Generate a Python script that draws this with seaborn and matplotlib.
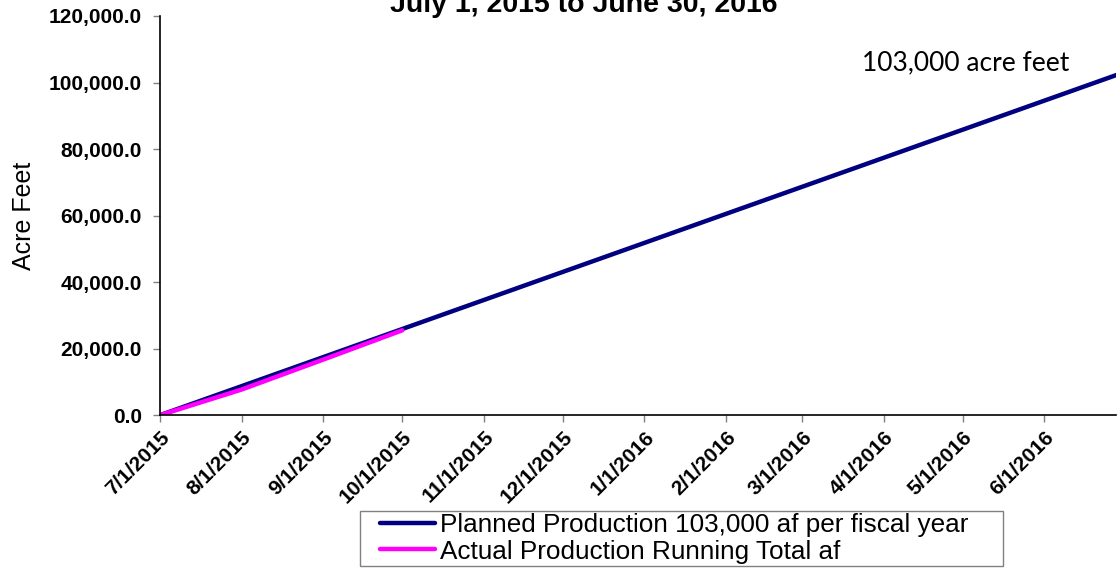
import pandas as pd
import matplotlib
matplotlib.use("Agg")
import matplotlib.pyplot as plt
from matplotlib.patches import Rectangle
import seaborn as sns

# Month starts of the fiscal year (plus the last day)
plan_dates = ["2015-07-01", "2015-08-01", "2015-09-01", "2015-10-01", "2015-11-01",
              "2015-12-01", "2016-01-01", "2016-02-01", "2016-03-01", "2016-04-01",
              "2016-05-01", "2016-06-01", "2016-06-30"]
plan_af = [0, 8724, 17448, 25891, 34615, 43057, 51781, 60505, 68667, 77391,
           85833, 94557, 102719]

actual_dates = ["2015-07-01", "2015-08-01", "2015-09-01", "2015-10-01"]
actual_af = [0, 7700, 16700, 25500]

tick_dates = ["2015-07-01", "2015-08-01", "2015-09-01", "2015-10-01", "2015-11-01",
              "2015-12-01", "2016-01-01", "2016-02-01", "2016-03-01", "2016-04-01",
              "2016-05-01", "2016-06-01"]
tick_labels = ["7/1/2015", "8/1/2015", "9/1/2015", "10/1/2015", "11/1/2015",
               "12/1/2015", "1/1/2016", "2/1/2016", "3/1/2016", "4/1/2016",
               "5/1/2016", "6/1/2016"]
y_ticks = [0, 20000, 40000, 60000, 80000, 100000, 120000]

PLAN_LABEL = "Planned Production 103,000 af per fiscal year"
ACTUAL_LABEL = "Actual Production Running Total af"


def main() -> None:
    sns.set_style("white")
    plt.rcParams["font.family"] = ["Liberation Sans", "DejaVu Sans"]
    plt.rcParams["text.color"] = "black"
    plt.rcParams["axes.labelcolor"] = "black"
    plt.rcParams["xtick.labelcolor"] = "black"
    plt.rcParams["ytick.labelcolor"] = "black"

    plan = pd.DataFrame({"date": pd.to_datetime(plan_dates), "af": plan_af})
    actual = pd.DataFrame({"date": pd.to_datetime(actual_dates), "af": actual_af})

    fig = plt.figure(figsize=(11.2, 5.71), dpi=100)
    ax = fig.add_axes([0.143, 0.273, 0.853, 0.699])

    sns.lineplot(data=plan, x="date", y="af", ax=ax, color="#000080", lw=3.2,
                 label=PLAN_LABEL)
    sns.lineplot(data=actual, x="date", y="af", ax=ax, color="#FF00FF", lw=3.2,
                 label=ACTUAL_LABEL)

    ax.set_xlim(pd.Timestamp("2015-07-01"), pd.Timestamp("2016-06-28"))
    ax.set_ylim(0, 120000)
    ax.set_yticks(y_ticks)
    ax.set_yticklabels([f"{v:,.1f}" for v in y_ticks], fontsize=15, fontweight="bold")
    ax.set_xticks(pd.to_datetime(tick_dates))
    ax.set_xticklabels(tick_labels, rotation=45, ha="right", rotation_mode="anchor",
                       fontsize=15, fontweight="bold")
    ax.tick_params(axis="both", direction="out", length=5, width=1, color="#808080",
                   left=True, bottom=True, pad=4)
    ax.tick_params(axis="y", pad=8)

    ax.set_xlabel("")
    ax.set_ylabel("Acre Feet", fontsize=18)
    ax.yaxis.set_label_coords(-0.130, 0.5)

    for side in ["top", "right"]:
        ax.spines[side].set_visible(False)
    for side in ["left", "bottom"]:
        ax.spines[side].set_color("black")
        ax.spines[side].set_linewidth(1.2)

    ax.text(pd.Timestamp("2016-05-02"), 106000, "103,000 acre feet", ha="center",
            va="center", fontsize=19, family=["Lato", "DejaVu Sans"])

    fig.text(0.521, 1 - 12 / 571, "July 1, 2015 to June 30, 2016", ha="center",
             va="baseline", fontsize=20.5, fontweight="bold")

    # legend without its own frame, boxed like the Excel legend below the plot
    ax.legend(loc="upper left", bbox_to_anchor=(380 / 1120, 1 - 513 / 571),
              bbox_transform=fig.transFigure, frameon=False, fontsize=18.8,
              handlelength=2.1, handletextpad=0.2, borderpad=0, labelspacing=0.1,
              borderaxespad=0)
    fig.patches.append(Rectangle((360 / 1120, 1 - 566 / 571), 643 / 1120, 55 / 571,
                                 transform=fig.transFigure, fill=False,
                                 edgecolor="#808080", linewidth=1))

    fig.savefig("out.png", dpi=100)


if __name__ == "__main__":
    main()
